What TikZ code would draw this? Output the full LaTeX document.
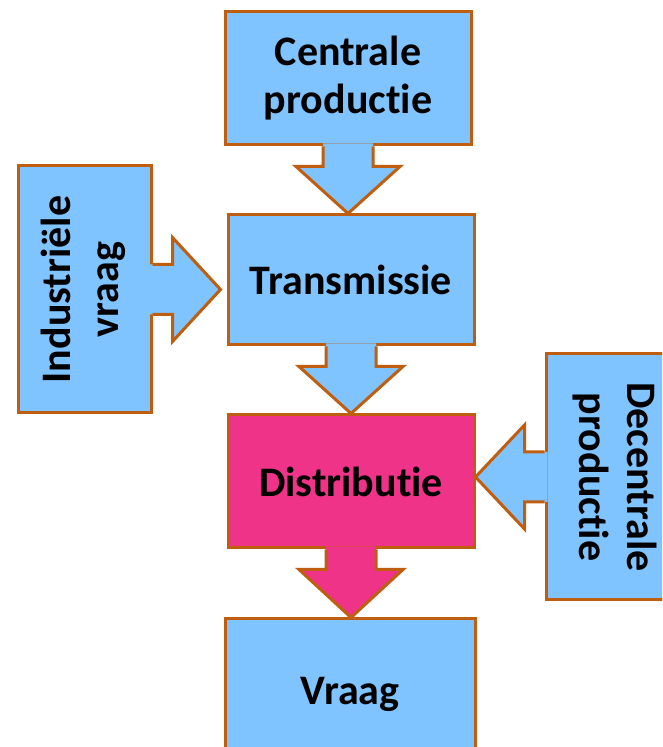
\documentclass[tikz,border=0pt]{standalone}
\usepackage{fontspec}
\usepackage{graphicx}
\setmainfont{Carlito}[Ligatures=NoCommon]
\usetikzlibrary{calc}
\definecolor{boxblue}{RGB}{128,196,255}
\definecolor{boxpink}{RGB}{239,51,136}
\definecolor{randkleur}{RGB}{192,94,16}
\tikzset{
  blok/.style={draw=randkleur, line width=3pt, fill=boxblue, inner sep=0pt,
    align=center, font=\fontsize{42}{48}\selectfont\bfseries},
  pijlrand/.style={draw=randkleur, line width=3pt}
}
% block arrow: #1 start on box edge, #2 tip, #3 fill colour
\newcommand{\blokpijl}[3]{%
  \coordinate (s) at (#1);
  \coordinate (t) at (#2);
  \coordinate (m) at ($(s)!20pt!(t)$);
  \coordinate (b) at ($(s)!-3pt!(t)$);
  \fill[#3] ($(b)!25pt!90:(t)$) -- ($(m)!25pt!90:(t)$) -- ($(m)!52pt!90:(t)$) -- (t)
    -- ($(m)!52pt!-90:(t)$) -- ($(m)!25pt!-90:(t)$) -- ($(b)!25pt!-90:(t)$) -- cycle;
  \draw[pijlrand] ($(s)!25pt!90:(t)$) -- ($(m)!25pt!90:(t)$) -- ($(m)!52pt!90:(t)$) -- (t)
    -- ($(m)!52pt!-90:(t)$) -- ($(m)!25pt!-90:(t)$) -- ($(s)!25pt!-90:(t)$);
}
\begin{document}
\begin{tikzpicture}[x=1pt, y=1pt]
  \useasboundingbox (0,0) rectangle (662,747);
  \clip (0,0) rectangle (662,747);
  % boxes
  \node[blok, minimum width=246pt, minimum height=133pt] (cp) at (348,668.5) {Centrale\\productie};
  \node[blok, minimum width=246pt, minimum height=130pt] (tr) at (351,467) {Transmissie};
  \node[blok, minimum width=246pt, minimum height=133pt, fill=boxpink] (di) at (351,265.5) {Distributie};
  \node[blok, minimum width=250pt, minimum height=151pt] (vr) at (350,52.5) {Vraag};
  \node[blok, minimum width=133pt, minimum height=247pt] (iv) at (84.5,457.5)
    {\rotatebox{90}{\begin{tabular}{@{}c@{}}Industriële\\vraag\end{tabular}}};
  \node[blok, minimum width=134pt, minimum height=246pt] (dp) at (613,270)
    {\rotatebox{-90}{\begin{tabular}{@{}c@{}}Decentrale\\productie\end{tabular}}};
  % arrows
  \blokpijl{cp.south}{cp.south |- tr.north}{boxblue}
  \blokpijl{tr.south}{tr.south |- di.north}{boxblue}
  \blokpijl{di.south}{di.south |- vr.north}{boxpink}
  \blokpijl{iv.east}{$(iv.east -| tr.west)+(-6,0)$}{boxblue}
  \blokpijl{dp.west}{dp.west -| di.east}{boxblue}
\end{tikzpicture}
\end{document}
